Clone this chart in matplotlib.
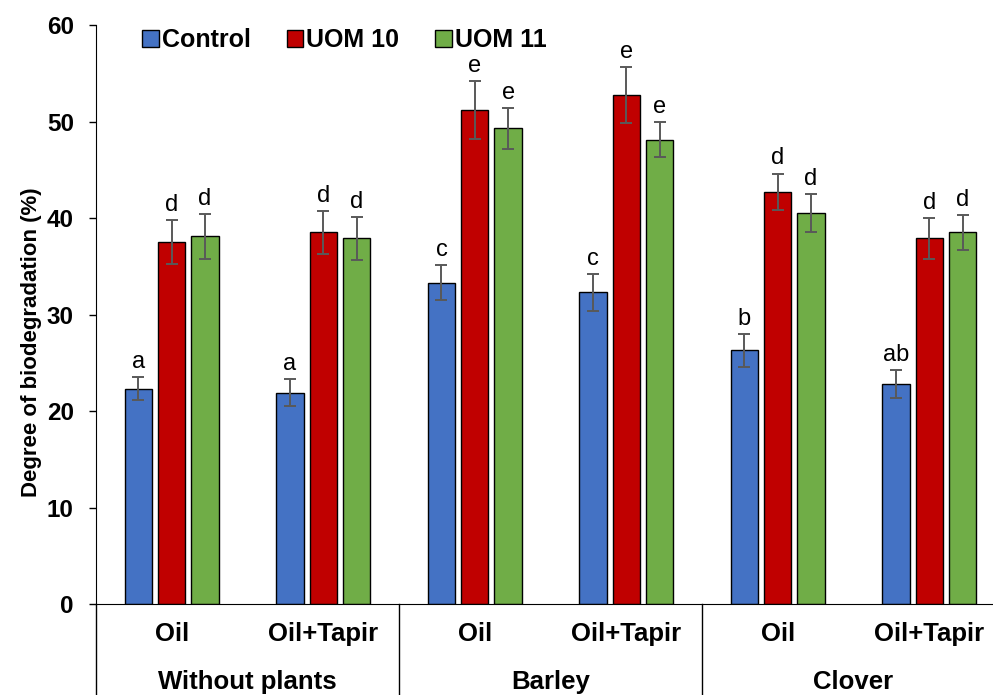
import matplotlib
matplotlib.use("Agg")
import matplotlib.pyplot as plt
import numpy as np

plt.rcParams['font.family'] = ['Liberation Sans', 'DejaVu Sans']

categories = ['Oil', 'Oil+Tapir', 'Oil', 'Oil+Tapir', 'Oil', 'Oil+Tapir']
groups = ['Without plants', 'Barley', 'Clover']

control = [22.3, 21.9, 33.3, 32.3, 26.3, 22.8]
control_err = [1.2, 1.4, 1.8, 1.9, 1.7, 1.4]
control_letters = ['a', 'a', 'c', 'c', 'b', 'ab']

uom10 = [37.5, 38.5, 51.2, 52.7, 42.7, 37.9]
uom10_err = [2.3, 2.2, 3.0, 2.9, 1.9, 2.1]
uom10_letters = ['d', 'd', 'e', 'e', 'd', 'd']

uom11 = [38.1, 37.9, 49.3, 48.1, 40.5, 38.5]
uom11_err = [2.3, 2.2, 2.1, 1.8, 2.0, 1.8]
uom11_letters = ['d', 'd', 'e', 'e', 'd', 'd']

series = [
    ('Control', control, control_err, control_letters, '#4472C4'),
    ('UOM 10', uom10, uom10_err, uom10_letters, '#C00000'),
    ('UOM 11', uom11, uom11_err, uom11_letters, '#70AD47'),
]

fig = plt.figure(figsize=(9.93, 6.95), dpi=100)
ax = fig.add_axes([0.0967, 0.1309, 0.9154, 0.8331])

x = np.arange(len(categories))
width = 0.18
offsets = [-0.22, 0, 0.22]

for (name, vals, errs, letters, color), off in zip(series, offsets):
    ax.bar(x + off, vals, width, color=color, edgecolor='black', linewidth=1.0,
           label=name, zorder=2)
    ax.errorbar(x + off, vals, yerr=errs, fmt='none', ecolor='#595959',
                elinewidth=1.4, capsize=4.3, capthick=1.4, zorder=3)
    for xi, v, e, t in zip(x + off, vals, errs, letters):
        ax.annotate(t, (xi, v + e), xytext=(0, 3), textcoords='offset points',
                    ha='center', va='bottom', fontsize=17)

ax.set_xlim(-0.5, len(categories) - 0.5)
ax.set_ylim(0, 60)
ax.set_yticks(np.arange(0, 61, 10))
ax.tick_params(axis='y', length=5, width=1, pad=11, labelsize=17.5)
for lbl in ax.get_yticklabels():
    lbl.set_fontweight('bold')
ax.set_xticks([])

ax.spines['top'].set_visible(False)
ax.spines['right'].set_visible(False)

ax.set_ylabel('Degree of biodegradation (%)', fontsize=16, fontweight='bold')
ax.yaxis.set_label_coords(-0.0594, 0.4525)

# two-level category axis below the bars
trans = ax.get_xaxis_transform()
for xi, cat in zip(x, categories):
    ax.text(xi, -0.052, cat, transform=trans, ha='center', va='center',
            fontsize=18.5, fontweight='bold')
for gi, g in enumerate(groups):
    ax.text(2 * gi + 0.5, -0.134, g, transform=trans, ha='center', va='center',
            fontsize=18.5, fontweight='bold')
for xd in [-0.5, 1.5, 3.5, 5.5]:
    ax.plot([xd, xd], [0, -0.2], transform=trans, color='black', lw=1.0,
            clip_on=False)

ax.legend(loc='upper left', bbox_to_anchor=(0.1435, 0.959),
          bbox_transform=fig.transFigure, ncol=3, frameon=False,
          prop={'weight': 'bold', 'size': 18}, handlelength=0.65,
          handleheight=0.65, handletextpad=0.12, columnspacing=1.45,
          borderpad=0, borderaxespad=0)

fig.savefig('out.png', dpi=100)
